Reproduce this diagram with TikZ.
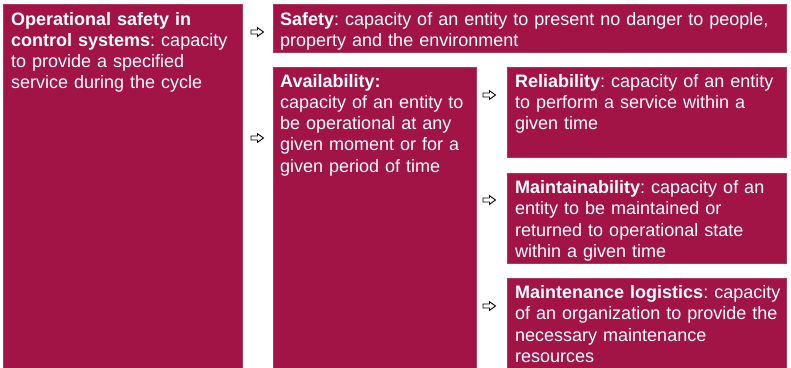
\documentclass[tikz,border=0pt]{standalone}
\usepackage{fontspec}
\setmainfont{Liberation Sans}
\frenchspacing
\definecolor{crim}{RGB}{162,19,70}
\tikzset{
  box/.style={fill=crim, draw=crim!85!white, line width=0.5pt, anchor=north west, inner sep=0pt},
  txt/.style={anchor=base west, inner sep=0pt, text=white, align=left, font=\fontsize{18}{21.3}\selectfont\frenchspacing},
  pics/harrow/.style={code={
    \draw[line width=0.9pt, fill=white, line join=miter]
      (-6,-2) -- (0.5,-2) -- (0.5,-4.3) -- (6.5,0) -- (0.5,4.3) -- (0.5,2) -- (-6,2) -- cycle;
  }}
}
\begin{document}
\begin{tikzpicture}[x=1pt,y=-1pt]
\useasboundingbox (0,0) rectangle (791,367);
% boxes
\node[box, minimum width=239pt, minimum height=366pt] (op) at (3,4) {};
\node[box, minimum width=513pt, minimum height=48pt] (safety) at (273,4) {};
\node[box, minimum width=203pt, minimum height=302pt] (avail) at (273,67) {};
\node[box, minimum width=279pt, minimum height=90pt] (rel) at (507,67) {};
\node[box, minimum width=279pt, minimum height=90pt] (maint) at (507,173) {};
\node[box, minimum width=279pt, minimum height=92pt] (logi) at (507,278) {};
% texts
\node[txt, text width=235pt] (optxt) at ([shift={(8,21)}]op.north west)
  {\textbf{Operational safety in}\\\textbf{control systems}: capacity\\to provide a specified\\service during the cycle};
\node[txt, text width=510pt] (safetytxt) at ([shift={(7,21)}]safety.north west)
  {\textbf{Safety}: capacity of an entity to present no danger to people,\\property and the environment};
\node[txt, text width=200pt] (availtxt) at ([shift={(7,20)}]avail.north west)
  {\textbf{Availability:}\\capacity of an entity to\\be operational at any\\given moment or for a\\given period of time};
\node[txt, text width=278pt] (reltxt) at ([shift={(8,20)}]rel.north west)
  {\textbf{Reliability}: capacity of an entity\\to perform a service within a\\given time};
\node[txt, text width=278pt] (mainttxt) at ([shift={(8,20.5)}]maint.north west)
  {\textbf{Maintainability}: capacity of an\\entity to be maintained or\\returned to operational state\\within a given time};
\node[txt, text width=278pt] (logitxt) at ([shift={(8,20.5)}]logi.north west)
  {\textbf{Maintenance logistics}: capacity\\of an organization to provide the\\necessary maintenance\\resources};
% arrows
\coordinate (a1) at (257,32);
\coordinate (a2) at (257,138);
\coordinate (a3) at (489,95);
\coordinate (a4) at (489,200);
\coordinate (a5) at (489,306);
\foreach \c in {a1,a2,a3,a4,a5} \pic at (\c) {harrow};
\end{tikzpicture}
\end{document}
